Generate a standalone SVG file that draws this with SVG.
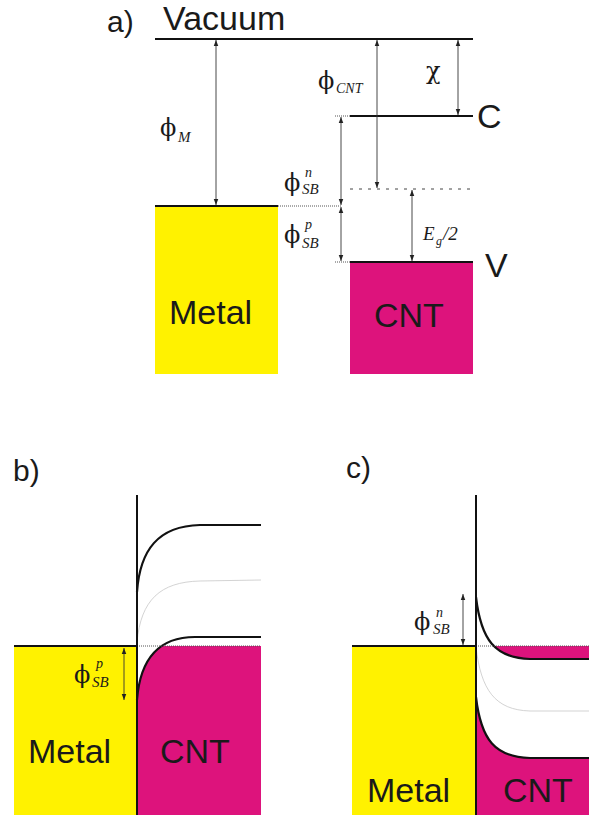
<svg xmlns="http://www.w3.org/2000/svg" width="589" height="817" viewBox="0 0 589 817">
<style>
.lbl{font-family:"Liberation Sans",Arial,sans-serif;fill:#1a1a1a}
.big{font-size:34px}
.pn{font-size:30px}
.sym{font-family:"DejaVu Serif","Liberation Serif",serif;fill:#1a1a1a;font-size:24px}
.it{font-family:"Liberation Serif","DejaVu Serif",serif;font-style:italic;fill:#1a1a1a}
.lvl{stroke:#111;stroke-width:2;fill:none}
.arr{stroke:#333;stroke-width:0.9;fill:none;marker-start:url(#ah);marker-end:url(#ah)}
.dot{stroke:#555;stroke-width:1;stroke-dasharray:1 1;fill:none}
.band{stroke:#111;stroke-width:2.2;fill:none}
.mid{stroke:#c8c8c8;stroke-width:0.8;fill:none}
.metal{fill:#FFF200}
.cnt{fill:#DD137C}
</style>
<defs>
<marker id="ah" viewBox="0 0 10 10" refX="10" refY="5" markerWidth="6" markerHeight="6" markerUnits="userSpaceOnUse" orient="auto-start-reverse">
<path d="M0,1.2 L10,5 L0,8.8 Z" fill="#222"/>
</marker>
<clipPath id="belowEf"><rect x="0" y="646" width="589" height="171"/></clipPath>
</defs>

<!-- Panel a -->
<g id="panel-a-label"><text class="lbl pn" x="107" y="32">a)</text></g>
<g id="vacuum">
<line class="lvl" x1="155" y1="39" x2="473" y2="39"/>
<text class="lbl big" x="163" y="30">Vacuum</text>
</g>
<g id="metal-a">
<rect class="metal" x="155" y="207" width="123" height="167"/>
<line class="lvl" x1="155" y1="206" x2="278" y2="206"/>
<text class="lbl big" x="169" y="324">Metal</text>
</g>
<g id="cnt-a">
<rect class="cnt" x="350" y="263" width="123" height="111"/>
<line class="lvl" x1="350" y1="116" x2="473" y2="116"/>
<line class="lvl" x1="350" y1="262" x2="473" y2="262"/>
<text class="lbl big" x="477" y="128">C</text>
<text class="lbl big" x="485" y="277">V</text>
<text class="lbl big" x="374" y="327">CNT</text>
</g>
<g id="connectors-a">
<line class="dot" x1="335" y1="116" x2="350" y2="116"/>
<line class="dot" x1="278" y1="206" x2="342" y2="206"/>
<line class="dot" x1="335" y1="262" x2="350" y2="262"/>
<line x1="350" y1="189" x2="472" y2="189" stroke="#444" stroke-width="1" stroke-dasharray="3 6"/>
<line class="arr" x1="216" y1="40" x2="216" y2="205"/>
<line class="arr" x1="377" y1="40" x2="377" y2="188"/>
<line class="arr" x1="458" y1="40" x2="458" y2="115"/>
<line class="arr" x1="341" y1="117" x2="341" y2="205"/>
<line class="arr" x1="341" y1="207" x2="341" y2="261"/>
<line class="arr" x1="412" y1="190" x2="412" y2="261"/>
</g>
<g id="labels-a">
<text class="sym" x="160" y="136">ϕ</text><text class="it" font-size="15" x="178" y="142">M</text>
<text class="sym" x="318" y="89">ϕ</text><text class="it" font-size="14" x="336" y="93">CNT</text>
<text class="sym" font-size="39" x="426" y="79">χ</text>
<text class="sym" x="284" y="191">ϕ</text><text class="it" font-size="14" x="305" y="177">n</text><text class="it" font-size="15" x="302" y="194">SB</text>
<text class="sym" x="284" y="243">ϕ</text><text class="it" font-size="14" x="305" y="229">p</text><text class="it" font-size="15" x="302" y="248">SB</text>
<text class="it" font-size="19" x="423" y="240">E</text><text class="it" font-size="12" x="436" y="245">g</text><text class="it" font-size="19" x="443" y="240">/2</text>
</g>

<!-- Panel b -->
<g id="panel-b-label"><text class="lbl pn" x="13" y="481">b)</text></g>
<g id="metal-b">
<rect class="metal" x="14" y="647" width="123" height="168"/>
<line class="lvl" x1="14" y1="646" x2="137" y2="646"/>
<text class="lbl big" x="28" y="763">Metal</text>
</g>
<g id="cnt-b">
<path class="cnt" clip-path="url(#belowEf)" d="M137,700 C140,660 158,637 195,637 L261,637 L261,815 L137,815 Z"/>
<path class="band" d="M137,592 C140,550 158,526 200,525 L261,525"/>
<path class="mid" d="M137,642 C141,600 160,582 200,581 L261,580"/>
<path class="band" d="M137,700 C140,660 158,637 195,637 L261,637"/>
<text class="lbl big" x="160" y="763">CNT</text>
</g>
<g id="connectors-b">
<line class="dot" x1="137" y1="646" x2="261" y2="646"/>
<line x1="137" y1="495" x2="137" y2="815" stroke="#111" stroke-width="2"/>
<line class="arr" x1="124" y1="648" x2="124" y2="700"/>
</g>
<g id="labels-b">
<text class="sym" x="74" y="683">ϕ</text><text class="it" font-size="14" x="96" y="668">p</text><text class="it" font-size="15" x="92" y="687">SB</text>
</g>

<!-- Panel c -->
<g id="panel-c-label"><text class="lbl pn" x="346" y="478">c)</text></g>
<g id="metal-c">
<rect class="metal" x="352" y="647" width="124" height="168"/>
<line class="lvl" x1="352" y1="646" x2="476" y2="646"/>
<text class="lbl big" x="367" y="802">Metal</text>
</g>
<g id="cnt-c">
<path class="cnt" clip-path="url(#belowEf)" d="M476,597 C481,640 495,658 530,659 L589,659 L589,600 L476,600 Z"/>
<path class="cnt" d="M476,697 C481,740 495,757 530,758 L589,758 L589,815 L476,815 Z"/>
<path class="band" d="M476,597 C481,640 495,658 530,659 L589,659"/>
<path class="mid" d="M476,647 C481,690 495,710 530,711 L589,711"/>
<path class="band" d="M476,697 C481,740 495,757 530,758 L589,758"/>
<text class="lbl big" x="503" y="802">CNT</text>
</g>
<g id="connectors-c">
<line class="dot" x1="476" y1="646" x2="589" y2="646"/>
<line x1="476" y1="495" x2="476" y2="815" stroke="#111" stroke-width="2"/>
<line class="arr" x1="463" y1="594" x2="463" y2="645"/>
</g>
<g id="labels-c">
<text class="sym" x="414" y="630">ϕ</text><text class="it" font-size="14" x="436" y="617">n</text><text class="it" font-size="15" x="433" y="634">SB</text>
</g>
</svg>
